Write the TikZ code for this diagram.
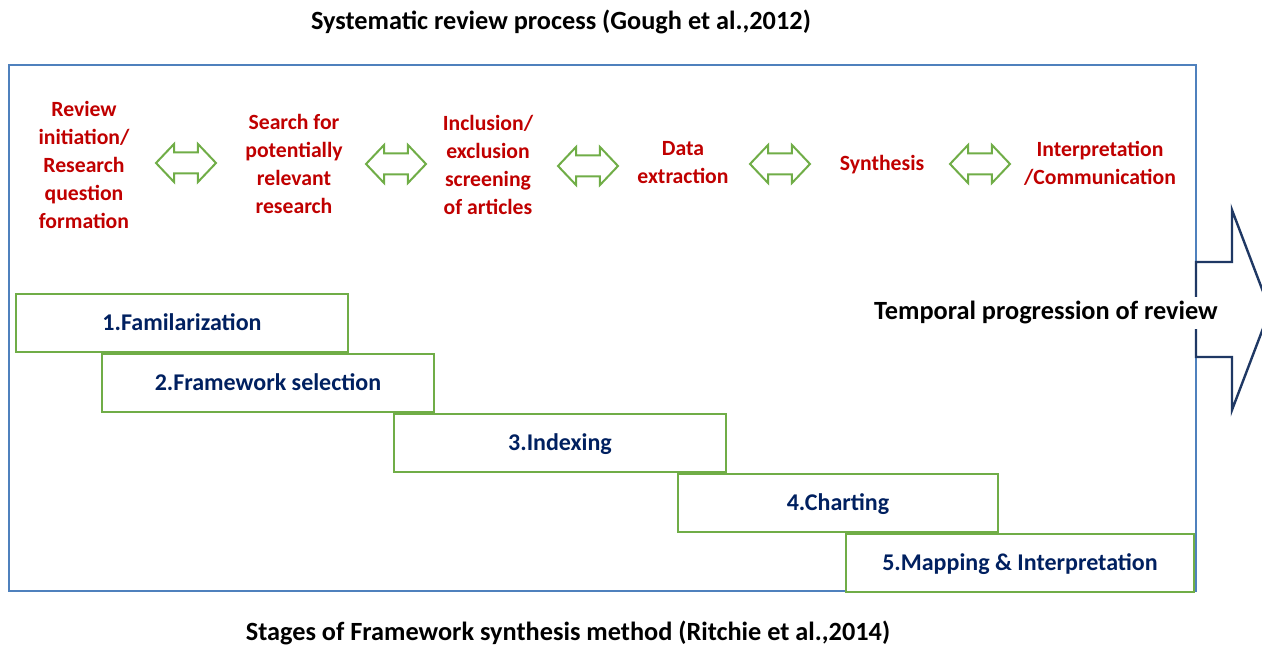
\documentclass[tikz,border=0pt]{standalone}
\usepackage{fontspec}
\setmainfont{Carlito}
\usetikzlibrary{shapes.arrows}
\definecolor{frameblue}{HTML}{4F81BD}
\definecolor{navy}{HTML}{1F3864}
\definecolor{stagenavy}{HTML}{002060}
\definecolor{boxgreen}{HTML}{70AD47}
\definecolor{redtext}{HTML}{C00000}
\tikzset{
  stagebox/.style={draw=boxgreen, line width=2pt, fill=white, anchor=north west,
    font=\fontsize{24}{28}\selectfont\bfseries, text=stagenavy, text depth=2pt},
  steptext/.style={align=center, text=redtext, font=\fontsize{21.7}{28}\selectfont\bfseries},
  dblarrow/.style={double arrow, draw=boxgreen, line width=2pt, fill=white,
    minimum height=60pt, inner xsep=0pt, inner ysep=9.5pt,
    double arrow head extend=8.5pt, double arrow tip angle=93},
  caption/.style={font=\fontsize{26.3}{30}\selectfont\bfseries, text=black}
}
\begin{document}
\begin{tikzpicture}[x=1pt,y=-1pt]
\useasboundingbox (0,0) rectangle (1262,647);
\begin{scope}
\clip (0,0) rectangle (1262,647);
% frame
\draw[frameblue, line width=1.6pt] (9,65) rectangle (1196,591);
% big arrow
\coordinate (a1) at (1196,262);
\coordinate (a2) at (1232,262);
\coordinate (a3) at (1232,210);
\coordinate (tip) at (1270,310);
\coordinate (a5) at (1232,410);
\coordinate (a6) at (1232,357);
\coordinate (a7) at (1196,357);
\draw[navy, line width=2.4pt, line join=miter, fill=white] (a1) -- (a2) -- (a3) -- (tip) -- (a5) -- (a6) -- (a7) -- cycle;
\end{scope}
\node[caption, fill=white, inner xsep=3pt, inner ysep=5pt] (temporal) at (1046,313) {Temporal progression of review};

% titles
\node[caption] (title) at (561,22) {Systematic review process (Gough et al.,2012)};
\node[caption] (subtitle) at (568,633) {Stages of Framework synthesis method (Ritchie et al.,2014)};

% process steps
\node[steptext] (p1) at (84,165) {Review\\initiation/\\Research\\question\\formation};
\node[steptext] (p2) at (294,164) {Search for\\potentially\\relevant\\research};
\node[steptext] (p3) at (488,165) {Inclusion/\\exclusion\\screening\\of articles};
\node[steptext] (p4) at (683,163) {Data\\extraction};
\node[steptext] (p5) at (882,165) {Synthesis};
\node[steptext] (p6) at (1100,163) {Interpretation\\/Communication};

\node[dblarrow] (d1) at (186,163) {};
\node[dblarrow] (d2) at (396,164) {};
\node[dblarrow] (d3) at (588,166) {};
\node[dblarrow] (d4) at (780,164) {};
\node[dblarrow] (d5) at (980,164) {};

% stages
\node[stagebox, minimum width=332pt, minimum height=58pt] (s1) at (15,293) {1.Familarization};
\node[stagebox, minimum width=332pt, minimum height=58pt] (s2) at (101,353) {2.Framework selection};
\node[stagebox, minimum width=332pt, minimum height=58pt] (s3) at (393,413) {3.Indexing};
\node[stagebox, minimum width=320pt, minimum height=58pt] (s4) at (677,473) {4.Charting};
\node[stagebox, minimum width=348pt, minimum height=58pt] (s5) at (845,533) {5.Mapping \& Interpretation};
\end{tikzpicture}
\end{document}
